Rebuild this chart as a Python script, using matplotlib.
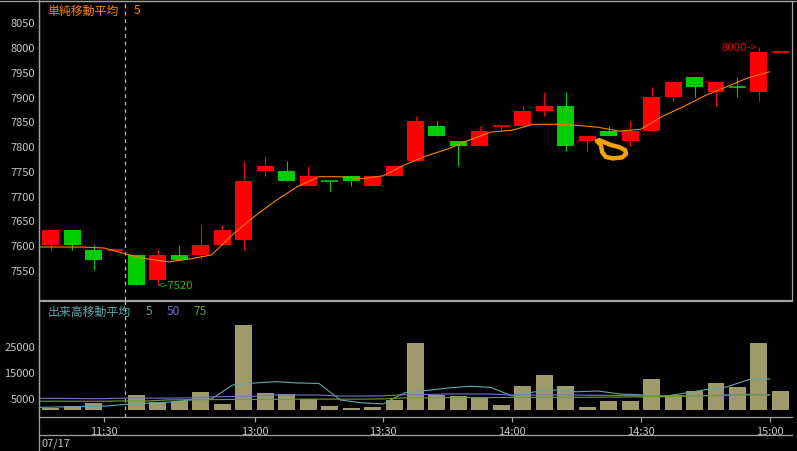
"""
5-minute candlestick chart (07/17) with SMA5 and volume moving averages
"""
import numpy as np
import matplotlib.pyplot as plt
from matplotlib.lines import Line2D

plt.rcParams['font.family'] = ['Noto Sans CJK JP', 'DejaVu Sans']

# OHLC per 5-minute bar (11:15 .. 15:00, lunch break after the 4th bar)
opens = [7600, 7630, 7590, 7590, 7580, 7530, 7580, 7580, 7600, 7610,
         7750, 7750, 7720, 7730, 7740, 7720, 7740, 7770, 7840, 7810,
         7800, 7840, 7840, 7870, 7880, 7810, 7830, 7810, 7830, 7900,
         7940, 7910, 7920, 7910, 7990]
highs = [7630, 7630, 7600, 7590, 7580, 7590, 7600, 7640, 7640, 7770,
         7780, 7770, 7760, 7730, 7740, 7740, 7760, 7860, 7850, 7810,
         7840, 7840, 7880, 7910, 7910, 7820, 7840, 7850, 7920, 7930,
         7940, 7930, 7940, 8000, 7990]
lows = [7590, 7590, 7550, 7590, 7520, 7520, 7570, 7570, 7600, 7590,
        7740, 7730, 7720, 7710, 7720, 7720, 7740, 7770, 7820, 7760,
        7800, 7830, 7840, 7860, 7790, 7790, 7820, 7800, 7830, 7890,
        7900, 7880, 7900, 7890, 7990]
closes = [7630, 7600, 7570, 7590, 7520, 7580, 7570, 7600, 7630, 7730,
          7760, 7730, 7740, 7730, 7730, 7740, 7760, 7850, 7820, 7800,
          7830, 7840, 7870, 7880, 7800, 7820, 7820, 7830, 7900, 7930,
          7920, 7930, 7920, 7990, 7990]
ma5 = [7596, 7596, 7596, 7594, 7582, 7572, 7566, 7572, 7580, 7622,
       7658, 7690, 7718, 7738, 7738, 7734, 7740, 7762, 7780, 7794,
       7812, 7828, 7832, 7844, 7844, 7842, 7838, 7830, 7834, 7860,
       7880, 7902, 7920, 7938, 7950]

volume = [1000, 1600, 2900, 300, 6000, 3200, 3800, 7050, 2500, 33100,
          6800, 6400, 4500, 1700, 1000, 1400, 4200, 26200, 6100, 5600,
          4800, 2100, 9500, 13800, 9500, 1400, 3700, 3700, 12200, 6100,
          7600, 10700, 9100, 26200, 7600]
vol_ma5 = [1200, 1400, 1500, 1700, 2360, 2800, 3240, 4070, 4510, 9940,
           10650, 11170, 10660, 10500, 4070, 2990, 2550, 6890, 7760, 8690,
           9390, 8970, 5640, 7170, 7950, 7250, 7560, 6400, 6080, 5410,
           6650, 8040, 9130, 11920, 12210]
vol_ma50 = [4700, 4700, 4600, 4600, 4800, 4800, 4800, 4900, 5300, 5400,
            5500, 6000, 6000, 6000, 5600, 5600, 5700, 6100, 6200, 6400,
            6400, 6400, 6000, 6000, 6000, 6000, 5900, 5800, 5700, 5700,
            5700, 5800, 6000, 6300, 6100]
vol_ma75 = [3600, 3600, 3600, 3600, 3700, 3700, 4100, 4200, 4200, 4300,
            4300, 4300, 4400, 4400, 4400, 4400, 4500, 4900, 4900, 5000,
            5000, 5000, 5100, 5100, 5100, 5100, 5200, 5200, 5300, 5300,
            5500, 5700, 5900, 6000, 6000]

price_ticks = [7550, 7600, 7650, 7700, 7750, 7800, 7850, 7900, 7950, 8000, 8050]
vol_ticks = [5000, 15000, 25000]
time_labels = ['11:30', '13:00', '13:30', '14:00', '14:30', '15:00']
time_tick_after = [2, 9, 15, 21, 27, 33]   # tick sits after this bar
session_break_after = 3
date_label = '07/17'

# freehand marker drawn near bar 26 (offsets in bars / price)
scribble_bar = 26
scribble_dx = [-0.55, -0.36, -0.31, -0.13, 0.20, 0.62, 0.81, 0.76, 0.48, 0.11, -0.22, -0.45]
scribble_price = [7810, 7802, 7788, 7778, 7775, 7777, 7784, 7792, 7798, 7802, 7808, 7812]

RED = '#ff0000'
GREEN = '#00cc00'
GRAY = '#a0a0a0'
LABEL = '#c4c4c4'
ORANGE = '#ff8000'
TEAL = '#5ea8aa'
PURPLE = '#7474c8'
OLIVE_GREEN = '#6c9e32'
VOLBAR = '#9e9a6a'

W, H = 797, 452
fig = plt.figure(figsize=(W / 100, H / 100), dpi=100, facecolor='black')
L, R = 39 / W, 792 / W
ax = fig.add_axes([L, 1 - 301 / H, R - L, 299 / H], facecolor='black')
axv = fig.add_axes([L, 1 - 418 / H, R - L, 116 / H], facecolor='black', sharex=ax)

x = np.arange(len(closes))
o = np.array(opens)
c = np.array(closes)

# candle colours: red up, green down; dojis compare with previous close
colors = []
for i in range(len(c)):
    if c[i] > o[i]:
        colors.append(RED)
    elif c[i] < o[i]:
        colors.append(GREEN)
    else:
        colors.append(GREEN if i > 0 and c[i] < c[i - 1] else RED)

bw = 0.79
ax.vlines(x, lows, highs, colors=colors, linewidth=0.8, zorder=2)
ax.bar(x, np.abs(c - o), bottom=np.minimum(o, c), width=bw, color=colors,
       linewidth=0, zorder=3)
doji = c == o
ax.hlines(c[doji], x[doji] - bw / 2, x[doji] + bw / 2,
          colors=[colors[i] for i in x[doji]], linewidth=1.2, zorder=3)

ax.plot(x - 0.5, ma5, color=ORANGE, linewidth=0.8, zorder=4)

ax.plot(scribble_bar + np.array(scribble_dx), scribble_price, color='#f5a300',
        linewidth=3.2, solid_capstyle='round', solid_joinstyle='round', zorder=5)

# high / low markers
hi = int(np.argmax(highs))
lo = 5
ax.text(hi - 0.1, max(highs), '8000->', color='#e80000', fontsize=8.2,
        ha='right', va='center')
ax.text(lo, min(lows), '<-7520', color='#10c010', fontsize=8.2,
        ha='left', va='center')

ax.set_xlim(-0.54, 34.54)
ax.set_ylim(7489, 8093)
ax.set_yticks(price_ticks)
ax.tick_params(axis='y', length=0, pad=3, labelcolor=LABEL, labelsize=8)
ax.tick_params(axis='x', length=0, labelbottom=False)
for s in ax.spines.values():
    s.set_color(GRAY)
    s.set_linewidth(0.9)

# volume panel
axv.bar(x, volume, width=bw, color=VOLBAR, linewidth=0, zorder=2)
axv.plot(x - 0.5, vol_ma5, color=TEAL, linewidth=0.8, zorder=3)
axv.plot(x - 0.5, vol_ma50, color=PURPLE, linewidth=0.8, zorder=3)
axv.plot(x - 0.5, vol_ma75, color=OLIVE_GREEN, linewidth=0.8, zorder=3)
axv.set_ylim(-2520, 42440)
axv.set_yticks(vol_ticks)
axv.set_xticks([t + 0.5 for t in time_tick_after])
axv.set_xticklabels(time_labels)
axv.tick_params(axis='y', length=0, pad=3, labelcolor=LABEL, labelsize=8)
axv.tick_params(axis='x', length=3.5, width=0.9, color=GRAY, pad=3,
                labelcolor=LABEL, labelsize=8)
for s in axv.spines.values():
    s.set_color(GRAY)
    s.set_linewidth(0.9)
axv.spines['right'].set_visible(False)

for a in (ax, axv):
    a.axvline(session_break_after + 0.45, color='#b8b8b8', linewidth=0.9,
              linestyle=(0, (3, 3)), zorder=1)

# frame lines outside the axes
fig.add_artist(Line2D([L, L], [0, 1], transform=fig.transFigure, color=GRAY, lw=0.9))
fig.add_artist(Line2D([0, 1], [1 - 1.5 / H] * 2, transform=fig.transFigure, color=GRAY, lw=0.9))
fig.add_artist(Line2D([L, R], [1 - 436 / H] * 2, transform=fig.transFigure, color=GRAY, lw=0.9))

# legends
fig.text(47 / W, 1 - 11 / H, '単純移動平均', color=ORANGE, fontsize=8.6, va='center')
fig.text(134 / W, 1 - 11 / H, '5', color=ORANGE, fontsize=8.6, va='center')
fig.text(48 / W, 1 - 312 / H, '出来高移動平均', color=TEAL, fontsize=8.6, va='center')
fig.text(146 / W, 1 - 312 / H, '5', color=TEAL, fontsize=8.6, va='center')
fig.text(167 / W, 1 - 312 / H, '50', color=PURPLE, fontsize=8.6, va='center')
fig.text(193 / W, 1 - 312 / H, '75', color=OLIVE_GREEN, fontsize=8.6, va='center')
fig.text(41 / W, 1 - 444 / H, date_label, color=LABEL, fontsize=8, va='center')

plt.savefig('out.png', dpi=100, facecolor='black')
plt.close()
